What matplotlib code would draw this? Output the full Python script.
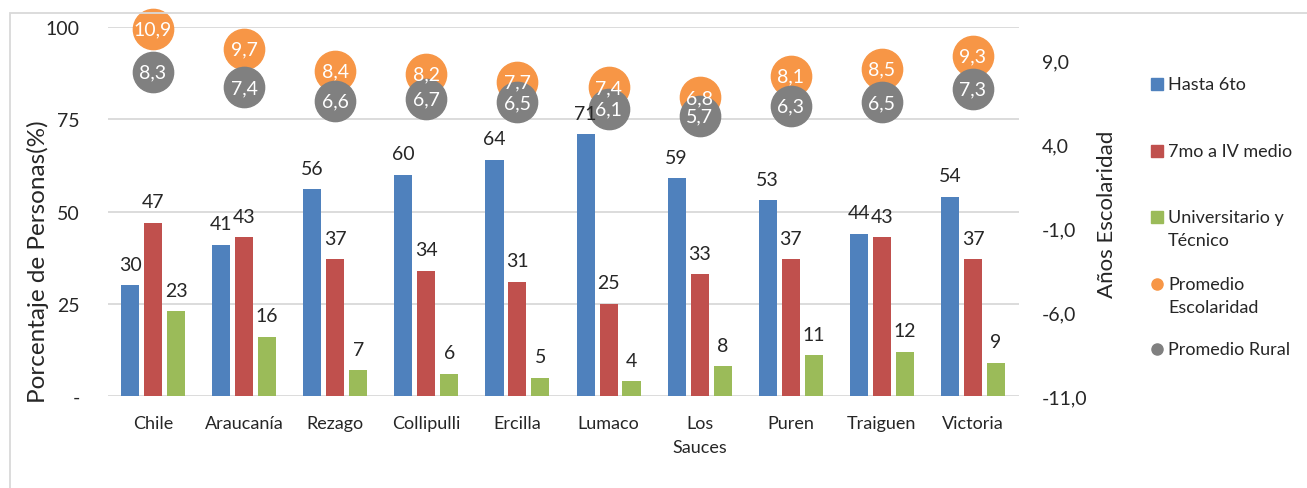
import matplotlib
matplotlib.use('Agg')
import matplotlib.pyplot as plt
import numpy as np
from matplotlib.lines import Line2D
from matplotlib.patches import Rectangle

categories = ['Chile', 'Araucanía', 'Rezago', 'Collipulli', 'Ercilla', 'Lumaco',
              'Los\nSauces', 'Puren', 'Traiguen', 'Victoria']
hasta_6to = [30, 41, 56, 60, 64, 71, 59, 53, 44, 54]
medio = [47, 43, 37, 34, 31, 25, 33, 37, 43, 37]
univ = [23, 16, 7, 6, 5, 4, 8, 11, 12, 9]
prom_esc = [10.9, 9.7, 8.4, 8.2, 7.7, 7.4, 6.8, 8.1, 8.5, 9.3]
prom_rural = [8.3, 7.4, 6.6, 6.7, 6.5, 6.1, 5.7, 6.3, 6.5, 7.3]
left_ticks = [0, 25, 50, 75, 100]
left_ticklabels = ['-', '25', '50', '75', '100']
right_ticks = [-11, -6, -1, 4, 9]
right_ticklabels = ['-11,0', '-6,0', '-1,0', '4,0', '9,0']
series_names = ['Hasta 6to', '7mo a IV medio', 'Universitario y\nTécnico',
                'Promedio\nEscolaridad', 'Promedio Rural']

plt.rcParams['font.family'] = ['Lato', 'DejaVu Sans']

C_BLUE = '#4F81BD'
C_RED = '#C0504D'
C_GREEN = '#9BBB59'
C_ORANGE = '#F79646'
C_GRAY = '#808080'
TXT = '#262626'

W, H = 1307, 489
fig = plt.figure(figsize=(W / 100, H / 100), dpi=100)

# outer chart frame
fig.patches.append(Rectangle((10 / W, -0.1), 1.2, 1 - 14 / H + 0.1, transform=fig.transFigure,
                             fill=False, edgecolor='#d9d9d9', lw=1.3, clip_on=False))

x0, x1 = 107.5, 1018.5
y0, y1 = 397, 28
ax = fig.add_axes([x0 / W, 1 - y0 / H, (x1 - x0) / W, (y0 - y1) / H])
ax2 = ax.twinx()

x = np.arange(len(categories))
bw = 0.198
step = 0.252
for vals, off, col in [(hasta_6to, -step, C_BLUE), (medio, 0, C_RED), (univ, step, C_GREEN)]:
    ax.bar(x + off, vals, width=bw, color=col, zorder=2)
    for xi, v in zip(x + off, vals):
        ax2.annotate(str(v), (xi, v), xycoords=ax.transData, xytext=(0, 9),
                     textcoords='offset points', ha='center', va='bottom',
                     fontsize=14, color=TXT, zorder=10)

ax.set_xlim(-0.5, len(categories) - 0.5)
ax.set_ylim(0, 100)
ax.set_yticks(left_ticks)
ax.set_yticklabels(left_ticklabels)
ax.set_xticks(x)
ax.set_xticklabels(categories, linespacing=1.6)
ax.yaxis.grid(True, color='#d9d9d9', lw=1.3)
ax.set_axisbelow(True)
ax.tick_params(axis='y', length=0, pad=20, labelsize=14, labelcolor=TXT)
ax.tick_params(axis='x', length=0, pad=14, labelsize=13, labelcolor=TXT)
for s in ax.spines.values():
    s.set_visible(False)

ax2.set_ylim(-11, 11)
ax2.set_yticks(right_ticks)
ax2.set_yticklabels(right_ticklabels)
ax2.tick_params(axis='y', length=0, pad=17, labelsize=14, labelcolor=TXT)
for s in ax2.spines.values():
    s.set_visible(False)

ax2.plot(x, prom_esc, 'o', ms=29, color=C_ORANGE, linestyle='none', zorder=3, clip_on=False)
ax2.plot(x, prom_rural, 'o', ms=29, color=C_GRAY, linestyle='none', zorder=4, clip_on=False)
for xi, v in zip(x, prom_esc):
    ax2.text(xi, v, f'{v:.1f}'.replace('.', ','), ha='center', va='center',
             color='white', fontsize=14, zorder=11)
for xi, v in zip(x, prom_rural):
    ax2.text(xi, v, f'{v:.1f}'.replace('.', ','), ha='center', va='center',
             color='white', fontsize=14, zorder=11)

# axis titles
fig.text(38 / W, 1 - 262 / H, 'Porcentaje de Personas(%)', rotation=90, ha='center',
         va='center', fontsize=17.5, color=TXT)
fig.text(1107 / W, 1 - 214 / H, 'Años Escolaridad', rotation=90, ha='center',
         va='center', fontsize=16, color=TXT)

# legend (manual)
leg_colors = [C_BLUE, C_RED, C_GREEN, C_ORANGE, C_GRAY]
leg_markers = ['s', 's', 's', 'o', 'o']
leg_y = [85, 152, 218, 285, 350]
for name, col, mk, yy in zip(series_names, leg_colors, leg_markers, leg_y):
    fig.add_artist(Line2D([1157 / W], [1 - yy / H], marker=mk, ms=9 if mk == 's' else 8,
                          color=col, linestyle='none', transform=fig.transFigure))
    for i, line in enumerate(name.split('\n')):
        fig.text(1168 / W, 1 - (yy + 23 * i) / H, line, ha='left', va='center',
                 fontsize=13, color=TXT)

fig.savefig('out.png', dpi=100)
